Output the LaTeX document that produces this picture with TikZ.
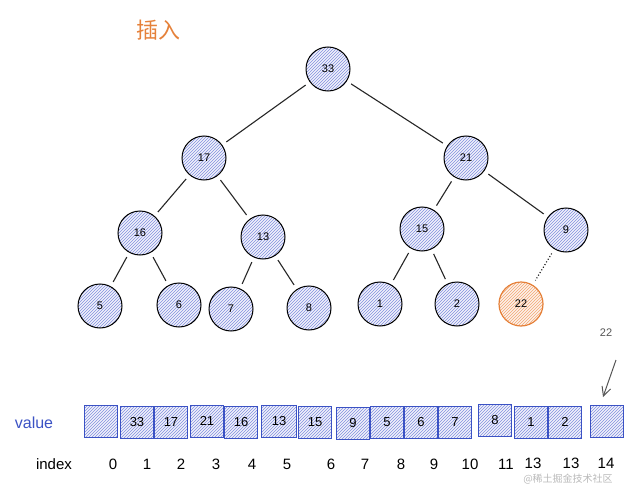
\documentclass[tikz,border=0pt]{standalone}
\usepackage{fontspec}
\setmainfont{Liberation Sans}
\newfontfamily\cjk{Noto Sans CJK SC}
\usetikzlibrary{patterns,arrows.meta}
\definecolor{hblue}{HTML}{4A5FD0}
\definecolor{hbox}{HTML}{3B52C4}
\definecolor{horange}{HTML}{E5813A}
\definecolor{hlorange}{HTML}{F2A672}
\definecolor{hgray}{HTML}{555555}
\begin{document}
\begin{tikzpicture}[x=1pt,y=-1pt,
  hnode/.style={circle,draw=black,line width=1pt,minimum size=44pt,inner sep=0pt,
    preaction={fill=hblue!8},pattern=north east lines,pattern color=hblue!70,font=\fontsize{11}{12}\selectfont},
  onode/.style={circle,draw=horange,line width=1.2pt,minimum size=44pt,inner sep=0pt,
    preaction={fill=hlorange!15},pattern=north east lines,pattern color=hlorange,font=\fontsize{11}{12}\selectfont},
  cell/.style={rectangle,draw=hbox,line width=1pt,minimum width=33pt,minimum height=32pt,inner sep=0pt,
    preaction={fill=hblue!8},pattern=north east lines,pattern color=hblue!70,font=\fontsize{13}{14}\selectfont},
  edge/.style={draw=black!85,line width=1.1pt,shorten <=5pt,shorten >=5pt},
  idx/.style={font=\fontsize{15}{16}\selectfont,text=black}]
\useasboundingbox (0,0) rectangle (632,487);
\node[font=\cjk\fontsize{22}{24}\selectfont,text=horange] (title) at (158,30) {插入};
% tree nodes
\node[hnode] (n33) at (328,69) {33};
\node[hnode] (n17) at (204,158) {17};
\node[hnode] (n21) at (466,158) {21};
\node[hnode] (n16) at (140,233) {16};
\node[hnode] (n13) at (263,237) {13};
\node[hnode] (n15) at (422,229) {15};
\node[hnode] (n9) at (566,230) {9};
\node[hnode] (n5) at (100,306) {5};
\node[hnode] (n6) at (179,305) {6};
\node[hnode] (n7) at (231,309) {7};
\node[hnode] (n8) at (309,308) {8};
\node[hnode] (n1) at (380,304) {1};
\node[hnode] (n2) at (457,304) {2};
\node[onode] (n22) at (521,304) {22};
% edges
\draw[edge] (n33) -- (n17);
\draw[edge] (n33) -- (n21);
\draw[edge] (n17) -- (n16);
\draw[edge] (n17) -- (n13);
\draw[edge] (n21) -- (n15);
\draw[edge] (n21) -- (n9);
\draw[edge] (n16) -- (n5);
\draw[edge] (n16) -- (n6);
\draw[edge] (n13) -- (n7);
\draw[edge] (n13) -- (n8);
\draw[edge] (n15) -- (n1);
\draw[edge] (n15) -- (n2);
\draw[edge,dotted,line width=1.2pt] (n9) -- (n22);
% incoming value + arrow
\node[font=\fontsize{11}{12}\selectfont,text=hgray] (inv) at (606,333) {22};
\coordinate (atop) at (616,360);
\coordinate (abot) at (603,397);
\draw[hgray,line width=1pt,-{Straight Barb[length=9pt,width=9pt]}] (atop) -- (abot);
% array
\node[font=\fontsize{16}{18}\selectfont,text=hbox] (vlabel) at (34,423) {value};
\node[cell] (c0) at (101,421) {};
\node[cell] (c1) at (137,422) {33};
\node[cell] (c2) at (171,422) {17};
\node[cell] (c3) at (207,421) {21};
\node[cell] (c4) at (241,422) {16};
\node[cell,minimum width=35pt] (c5) at (279,421) {13};
\node[cell] (c6) at (315,422) {15};
\node[cell] (c7) at (353,423) {9};
\node[cell] (c8) at (387,422) {5};
\node[cell] (c9) at (421,422) {6};
\node[cell] (c10) at (455,422) {7};
\node[cell] (c11) at (495,420) {8};
\node[cell] (c12) at (531,422) {1};
\node[cell] (c13) at (565,422) {2};
\node[cell] (c14) at (607,421) {};
% index
\node[idx] (ilabel) at (54,464) {index};
\node[idx] (i0) at (113,464) {0};
\node[idx] (i1) at (147,464) {1};
\node[idx] (i2) at (181,464) {2};
\node[idx] (i3) at (216,464) {3};
\node[idx] (i4) at (252,464) {4};
\node[idx] (i5) at (287,464) {5};
\node[idx] (i6) at (331,464) {6};
\node[idx] (i7) at (365,464) {7};
\node[idx] (i8) at (401,464) {8};
\node[idx] (i9) at (434,464) {9};
\node[idx] (i10) at (470,464) {10};
\node[idx] (i11) at (506,464) {11};
\node[idx] (i12) at (533,463) {13};
\node[idx] (i13) at (571,463) {13};
\node[idx] (i14) at (606,463) {14};
\node[font=\cjk\fontsize{10}{11}\selectfont,text=gray!55] (wm) at (568,479) {@稀土掘金技术社区};
\end{tikzpicture}
\end{document}
